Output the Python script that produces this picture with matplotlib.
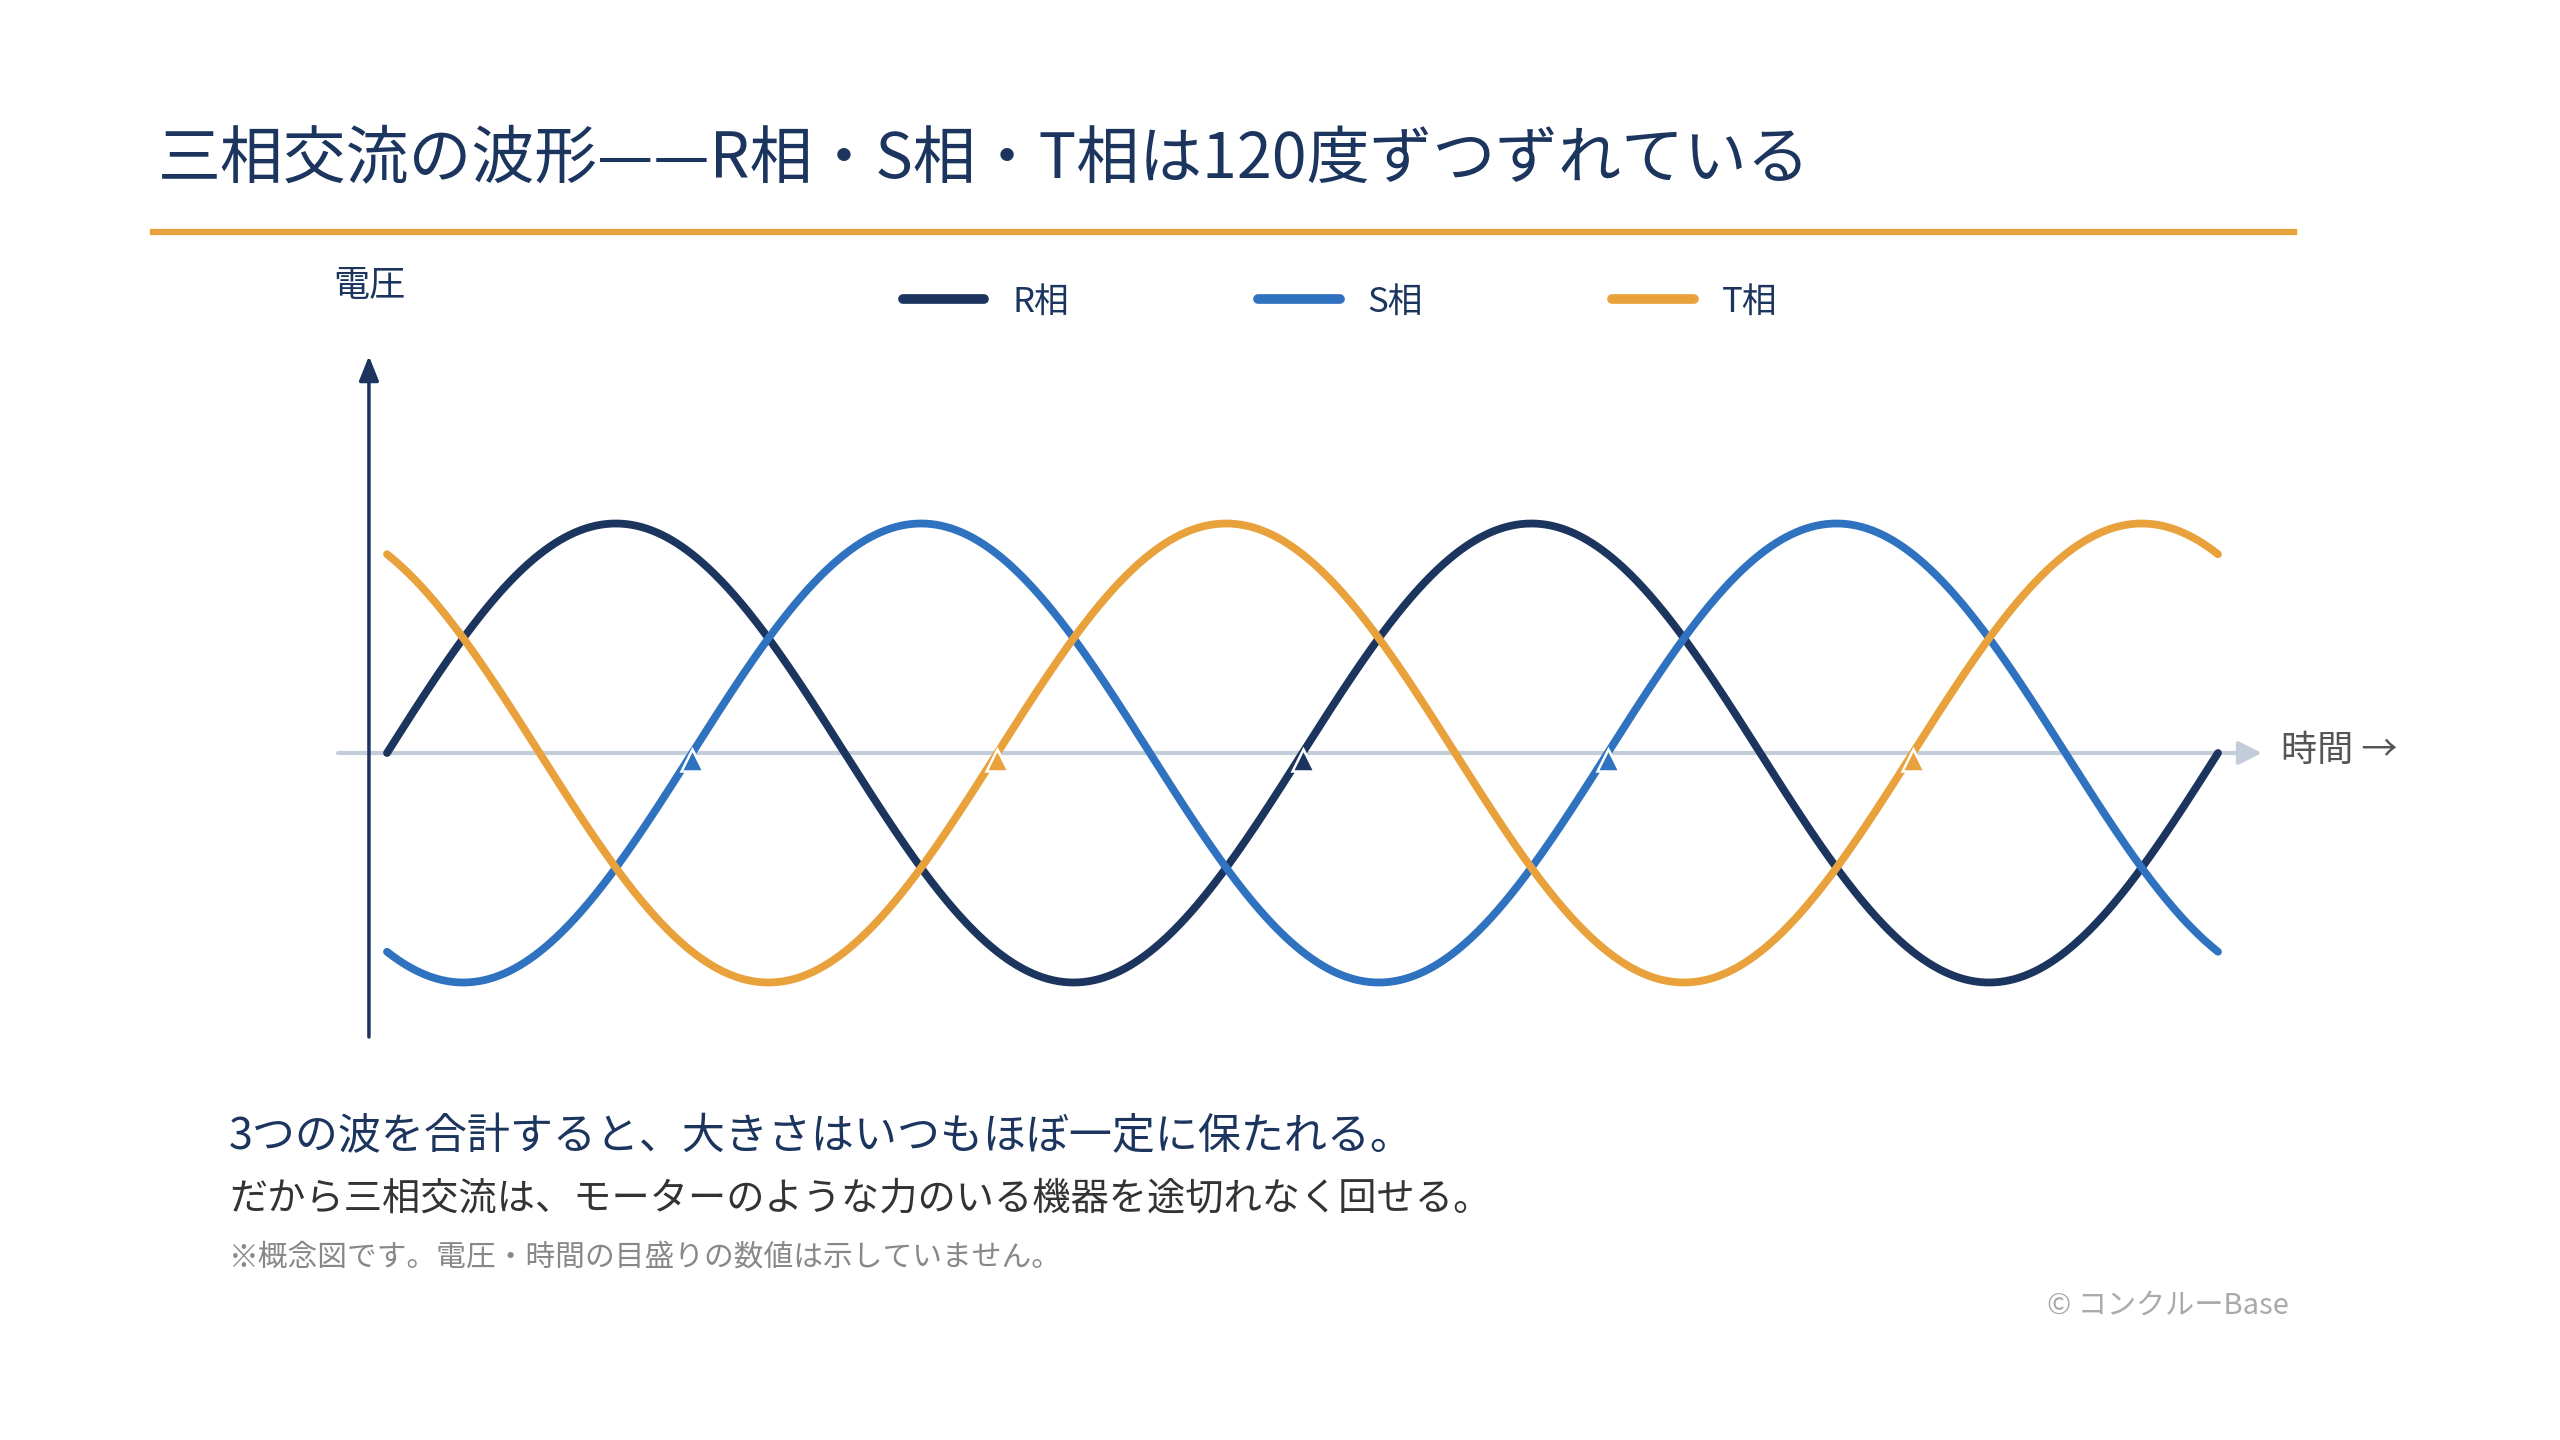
import numpy as np
import matplotlib
matplotlib.use('Agg')
import matplotlib.pyplot as plt
from matplotlib.lines import Line2D

plt.rcParams['font.family'] = ['Noto Sans CJK JP', 'DejaVu Sans']

# データ（概念図：振幅1、2周期）
phase_names = ['R相', 'S相', 'T相']
phase_shift = [0, -120, 120]          # 度
phase_colors = ['#1c355e', '#2e72c0', '#e9a23b']
cycles = 2
amplitude = 1.0

# 上向きゼロクロスの印（度, 相）
cross_deg = [120, 240, 360, 480, 600]
cross_phase = ['S相', 'T相', 'R相', 'S相', 'T相']

NAVY = '#1c355e'
W, H = 2560, 1440

fig = plt.figure(figsize=(25.6, 14.4), dpi=100)
fig.patch.set_facecolor('white')

# 軸の位置（ピクセル）
ax_l, ax_r, ax_t, ax_b = 338, 2270, 356, 1037
ax = fig.add_axes([ax_l / W, 1 - ax_b / H, (ax_r - ax_l) / W, (ax_b - ax_t) / H])
x0_px, x1_px = 387, 2218
sx = (x1_px - x0_px) / (360 * cycles)
ax.set_xlim(-(x0_px - ax_l) / sx, 360 * cycles + (ax_r - x1_px) / sx)
sy = 229.5
ax.set_ylim(-(ax_b - 753) / sy, (753 - ax_t) / sy)
ax.axis('off')

theta = np.linspace(0, 360 * cycles, 1441)
for name, sh, c in zip(phase_names, phase_shift, phase_colors):
    ax.plot(theta, amplitude * np.sin(np.radians(theta + sh)), color=c, lw=5.6,
            solid_capstyle='round', label=name, zorder=3)

# 時間軸（ゼロ線）
xl = ax.get_xlim()
ax.annotate('', xy=(xl[1] - 8 / sx, 0), xytext=(xl[0], 0),
            arrowprops=dict(arrowstyle='-|>,head_length=1.4,head_width=0.7',
                            color='#c3cdda', lw=3, shrinkA=0, shrinkB=0), zorder=1)
# 電圧軸
yl = ax.get_ylim()
ax.annotate('', xy=(-7.1, yl[1]), xytext=(-7.1, yl[0]),
            arrowprops=dict(arrowstyle='-|>,head_length=1.5,head_width=0.6',
                            color=NAVY, lw=2.5, shrinkA=0, shrinkB=0), zorder=2)

cmap = dict(zip(phase_names, phase_colors))
for d, p in zip(cross_deg, cross_phase):
    ax.plot(d, -0.03, marker='^', ms=16, color=cmap[p], mec='white', mew=1.8, zorder=5)

leg = fig.legend(loc='center', bbox_to_anchor=(1340 / W, 1 - 302 / H), ncol=3,
                 frameon=False, fontsize=25, handlelength=2.35, handletextpad=0.8,
                 columnspacing=5.45)
for h in leg.get_lines():
    h.set_linewidth(7)
    h.set_solid_capstyle('round')
for t in leg.get_texts():
    t.set_color(NAVY)

# タイトルと罫線
fig.text(158 / W, 1 - 160 / H, '三相交流の波形——R相・S相・T相は120度ずつずれている',
         fontsize=45.3, color=NAVY, va='center', ha='left')
fig.add_artist(Line2D([153 / W, 2294 / W], [1 - 232 / H, 1 - 232 / H],
                      color='#e9a23b', lw=4.5, transform=fig.transFigure))

fig.text(333 / W, 1 - 286 / H, '電圧', fontsize=26, color=NAVY, va='center', ha='left')
fig.text(2281 / W, 1 - 751 / H, '時間 →', fontsize=26, color='#555555', va='center', ha='left')

fig.text(229 / W, 1 - 1137 / H, '3つの波を合計すると、大きさはいつもほぼ一定に保たれる。',
         fontsize=31, color=NAVY, va='center', ha='left')
fig.text(229 / W, 1 - 1199 / H, 'だから三相交流は、モーターのような力のいる機器を途切れなく回せる。',
         fontsize=27.5, color='#333333', va='center', ha='left')
fig.text(229 / W, 1 - 1257 / H, '※概念図です。電圧・時間の目盛りの数値は示していません。',
         fontsize=21.4, color='#888888', va='center', ha='left')
fig.text(2289 / W, 1 - 1306 / H, '© コンクルーBase', fontsize=21, color='#aaaaaa',
         va='center', ha='right')

fig.savefig('out.png', dpi=100, facecolor='white')
